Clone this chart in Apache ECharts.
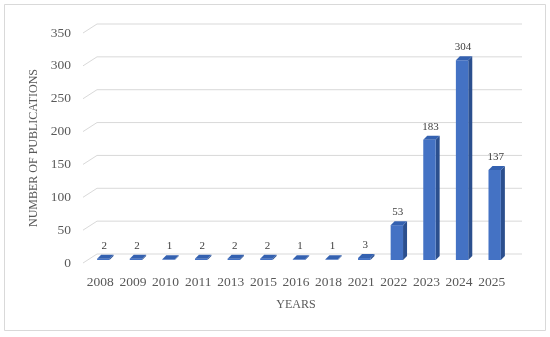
<!DOCTYPE html>
<html>
<head>
<meta charset="utf-8">
<script src="https://cdn.jsdelivr.net/npm/echarts@6/dist/echarts.min.js"></script>
<style>html,body{margin:0;padding:0;background:#fff}#c{width:550px;height:337px}</style>
</head>
<body>
<div id="c"></div>
<script>
const years = ['2008','2009','2010','2011','2013','2015','2016','2018','2021','2022','2023','2024','2025'];
const publications = [2, 2, 1, 2, 2, 2, 1, 1, 3, 53, 183, 304, 137];
const yTicks = [0, 50, 100, 150, 200, 250, 300, 350];

const FONT = 'Liberation Serif';
const chart = echarts.init(document.getElementById('c'), null, {renderer: 'canvas'});

const barData = publications.map((v, i) => [i, v]);
const gridData = yTicks.map(v => [0, v]);

chart.setOption({
  animation: false,
  backgroundColor: '#fff',
  graphic: [{
    type: 'rect', shape: {x: 4.5, y: 4.5, width: 541, height: 326},
    style: {fill: 'none', stroke: '#d9d9d9', lineWidth: 1}, z: -10
  }],
  grid: {left: 84, right: 42, top: 33, bottom: 74},
  xAxis: {
    type: 'category', data: years, boundaryGap: true,
    axisLine: {show: false}, axisTick: {show: false},
    axisLabel: {interval: 0, color: '#595959', fontFamily: FONT, fontSize: 13.5, margin: 12},
    name: 'YEARS', nameLocation: 'middle', nameGap: 36,
    nameTextStyle: {color: '#595959', fontFamily: FONT, fontSize: 12}
  },
  yAxis: {
    type: 'value', min: 0, max: 350, interval: 50,
    axisLine: {show: false}, axisTick: {show: false}, splitLine: {show: false},
    axisLabel: {color: '#595959', fontFamily: FONT, fontSize: 13.5, margin: 13},
    name: 'NUMBER OF PUBLICATIONS', nameLocation: 'middle', nameGap: 38,
    nameTextStyle: {color: '#595959', fontFamily: FONT, fontSize: 12}
  },
  series: [
    {
      type: 'custom', z: 1, silent: true,
      data: gridData,
      renderItem: function (params, api) {
        const v = api.value(1);
        const p = api.coord([0, v]);
        const s = api.size([1, 0])[0];
        const pr = api.coord([years.length - 1, v]);
        const xl = p[0] - s / 2;
        const xr = pr[0] + s / 2;
        return {
          type: 'polyline',
          shape: {points: [[xl - 1, p[1]], [xl + 13, p[1] - 9], [xr + 14, p[1] - 9]]},
          style: {stroke: '#d9d9d9', lineWidth: 1, fill: 'none'}
        };
      }
    },
    {
      type: 'custom', z: 5, silent: true,
      data: barData,
      renderItem: function (params, api) {
        const i = api.value(0), v = api.value(1);
        const base = api.coord([i, 0]);
        const top = api.coord([i, v]);
        const w = api.size([1, 0])[0] * 0.38;
        const ox = 3, oy = -3, dx = 4, dy = 4;
        const x0 = base[0] - w / 2 + ox, x1 = x0 + w;
        const yb = base[1] + oy, yt = top[1] + oy;
        return {
          type: 'group',
          children: [
            {type: 'polygon', shape: {points: [[x1, yt], [x1 + dx, yt - dy], [x1 + dx, yb - dy], [x1, yb]]},
              style: {fill: '#2b4f8e'}},
            {type: 'rect', shape: {x: x0, y: yt, width: w, height: yb - yt},
              style: {fill: '#4472c4'}},
            {type: 'polygon', shape: {points: [[x0, yt], [x1, yt], [x1 + dx, yt - dy], [x0 + dx, yt - dy]]},
              style: {fill: '#3461b0'}},
            {type: 'text', x: x0 + w / 2 + dx / 2 - 1, y: yt - dy - 9,
              style: {text: String(v), fill: '#404040', font: '11px ' + FONT, textAlign: 'center', textVerticalAlign: 'middle'}}
          ]
        };
      }
    }
  ]
});
</script>
</body>
</html>
